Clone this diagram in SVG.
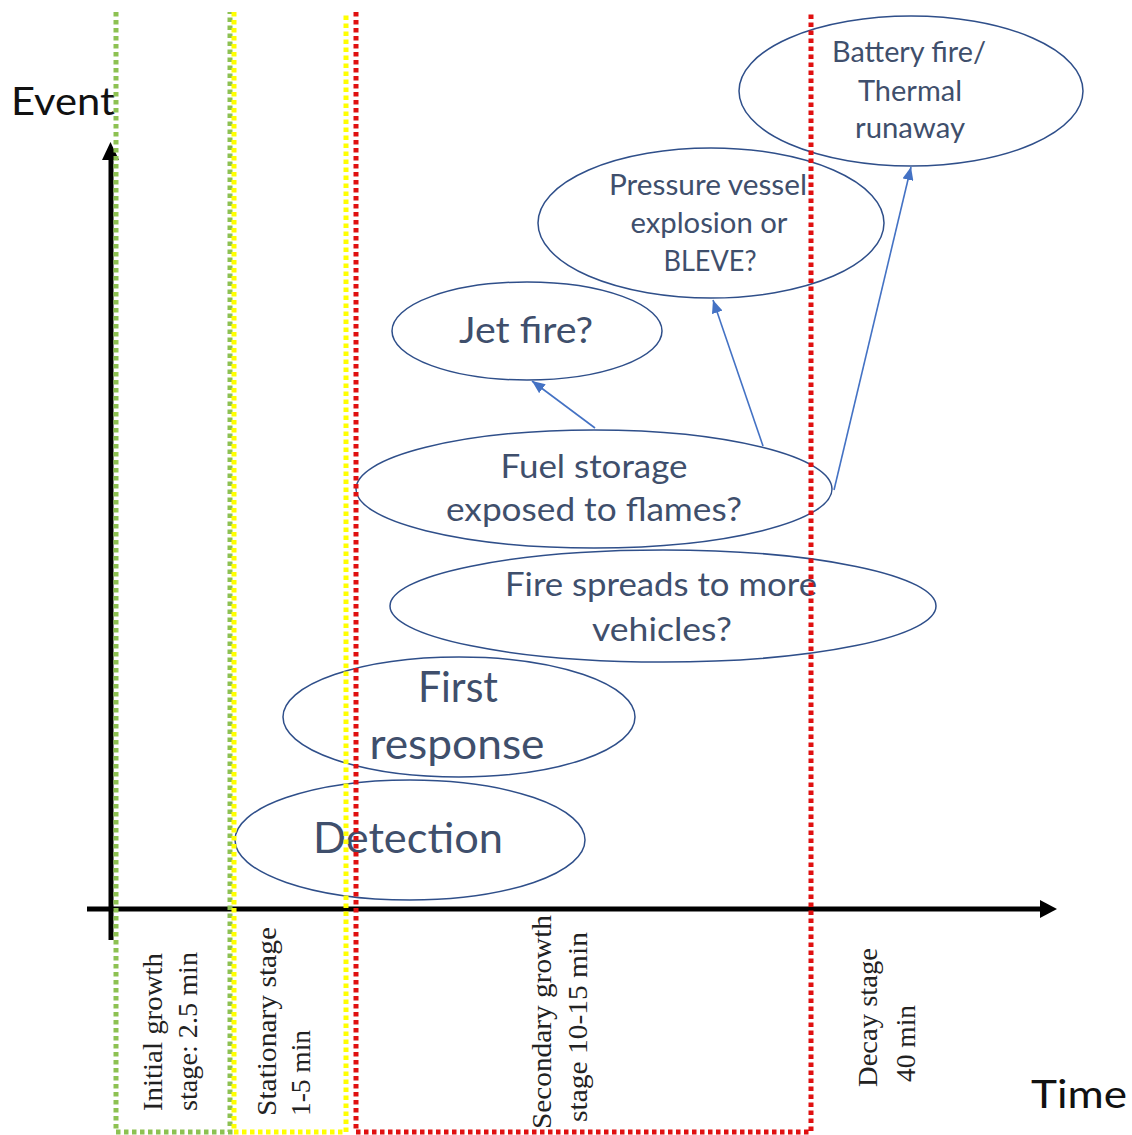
<svg xmlns="http://www.w3.org/2000/svg" width="1132" height="1135" viewBox="0 0 1132 1135">
<style>
.bg{fill:#ffffff}
.node ellipse{fill:none;stroke:#2F4F8A;stroke-width:1.5}
.node text{font-family:Lato,"Open Sans","Liberation Sans",sans-serif;fill:#3F4F6C;text-anchor:middle}
.axis{stroke:#000;stroke-width:5;fill:none}
.ahead{fill:#000}
.conn line{stroke:#4472C4;stroke-width:1.6}
.dot{fill:none;stroke-width:5;stroke-dasharray:4.5 3.5}
.stage text{font-family:"Liberation Serif","Times New Roman",serif;font-size:28px;fill:#222}
.axlabel{font-family:Lato,"Open Sans","Liberation Sans",sans-serif;fill:#111;font-size:39px}
</style>
<defs>
<marker id="ah" markerUnits="userSpaceOnUse" markerWidth="13" markerHeight="11" refX="13" refY="5.5" orient="auto">
<path d="M0,0 L13,5.5 L0,11 z" fill="#4472C4"/>
</marker>
</defs>
<rect class="bg" x="0" y="0" width="1132" height="1135"/>

<g id="axes">
<line class="axis" x1="87" y1="909" x2="1042" y2="909"/>
<polygon class="ahead" points="1040,900 1057,909 1040,918"/>
<line class="axis" x1="111" y1="940" x2="111" y2="158"/>
<polygon class="ahead" points="102,160 110.5,142 119,160"/>
<text class="axlabel" x="11" y="115" textLength="104" lengthAdjust="spacingAndGlyphs">Event</text>
<text class="axlabel" x="1031" y="1108" textLength="96" lengthAdjust="spacingAndGlyphs">Time</text>
</g>

<g id="node-battery" class="node">
<ellipse cx="911" cy="91" rx="172" ry="75"/>
<text x="909" y="62" font-size="28" textLength="154" lengthAdjust="spacingAndGlyphs">Battery fire/</text>
<text x="910" y="101" font-size="28" textLength="104" lengthAdjust="spacingAndGlyphs">Thermal</text>
<text x="910" y="138" font-size="28" textLength="110" lengthAdjust="spacingAndGlyphs">runaway</text>
</g>

<g id="node-pressure" class="node">
<ellipse cx="711" cy="223" rx="173" ry="75"/>
<text x="708" y="195" font-size="28" textLength="198" lengthAdjust="spacingAndGlyphs">Pressure vessel</text>
<text x="709" y="233" font-size="28" textLength="157" lengthAdjust="spacingAndGlyphs">explosion or</text>
<text x="710" y="271" font-size="28" textLength="93" lengthAdjust="spacingAndGlyphs">BLEVE?</text>
</g>

<g id="node-jet" class="node">
<ellipse cx="527" cy="331" rx="135" ry="49"/>
<text x="526" y="343" font-size="37" textLength="134" lengthAdjust="spacingAndGlyphs">Jet fire?</text>
</g>

<g id="node-fuel" class="node">
<ellipse cx="594" cy="489" rx="238" ry="59"/>
<text x="594" y="478" font-size="33" textLength="187" lengthAdjust="spacingAndGlyphs">Fuel storage</text>
<text x="594" y="521" font-size="33" textLength="296" lengthAdjust="spacingAndGlyphs">exposed to flames?</text>
</g>

<g id="node-spread" class="node">
<ellipse cx="663" cy="606" rx="273" ry="56"/>
<text x="661" y="596" font-size="33" textLength="312" lengthAdjust="spacingAndGlyphs">Fire spreads to more</text>
<text x="662" y="641" font-size="33" textLength="140" lengthAdjust="spacingAndGlyphs">vehicles?</text>
</g>

<g id="node-first" class="node">
<ellipse cx="459" cy="717" rx="176" ry="60"/>
<text x="458" y="702" font-size="42" textLength="80" lengthAdjust="spacingAndGlyphs">First</text>
<text x="457" y="759" font-size="42" textLength="175" lengthAdjust="spacingAndGlyphs">response</text>
</g>

<g id="node-detection" class="node">
<ellipse cx="410" cy="840" rx="175" ry="60"/>
<text x="408" y="853" font-size="43" textLength="190" lengthAdjust="spacingAndGlyphs">Detection</text>
</g>

<g id="connectors" class="conn">
<line x1="595" y1="428" x2="532" y2="381" marker-end="url(#ah)"/>
<line x1="763" y1="446" x2="713" y2="300" marker-end="url(#ah)"/>
<line x1="834" y1="490" x2="911" y2="167" marker-end="url(#ah)"/>
</g>

<g id="stages">
<polyline class="dot" stroke="#8DC152" points="116,12 116,1132 230,1132 230,12"/>
<polyline class="dot" stroke="#FFFF00" points="234,12 234,1132 346,1132 346,12"/>
<polyline class="dot" stroke="#E01010" points="356,12 356,1132 811,1132 811,12"/>
</g>

<g id="stage-labels" class="stage">
<text transform="translate(162,1111) rotate(-90)" textLength="158" lengthAdjust="spacingAndGlyphs">Initial growth</text>
<text transform="translate(197,1111) rotate(-90)" textLength="159" lengthAdjust="spacingAndGlyphs">stage: 2.5 min</text>
<text transform="translate(276,1116) rotate(-90)" textLength="189" lengthAdjust="spacingAndGlyphs">Stationary stage</text>
<text transform="translate(310,1116) rotate(-90)" textLength="86" lengthAdjust="spacingAndGlyphs">1-5 min</text>
<text transform="translate(551,1129) rotate(-90)" textLength="214" lengthAdjust="spacingAndGlyphs">Secondary growth</text>
<text transform="translate(587,1122) rotate(-90)" textLength="190" lengthAdjust="spacingAndGlyphs">stage 10-15 min</text>
<text transform="translate(877,1087) rotate(-90)" textLength="139" lengthAdjust="spacingAndGlyphs">Decay stage</text>
<text transform="translate(915,1082) rotate(-90)" textLength="77" lengthAdjust="spacingAndGlyphs">40 min</text>
</g>
</svg>
